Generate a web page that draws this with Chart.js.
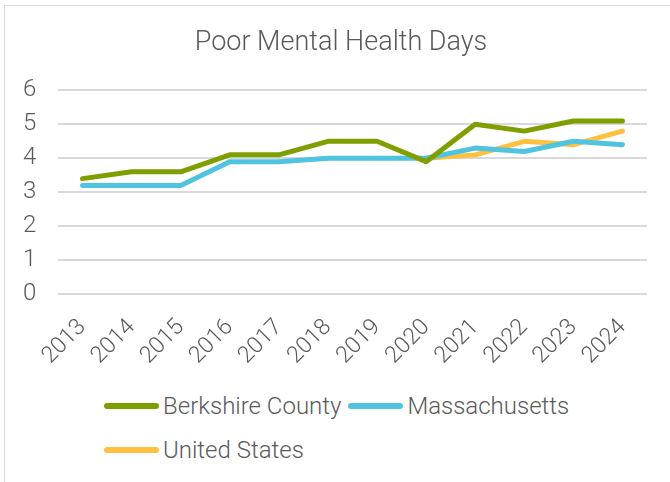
<!DOCTYPE html>
<html>
<head>
<meta charset="utf-8">
<script src="https://cdn.jsdelivr.net/npm/chart.js@4"></script>
<style>
  body { margin: 0; background: #fff; font-family: Roboto, sans-serif; }
  #frame { position: absolute; left: 4px; top: 5px; width: 700px; height: 500px; border: 1px solid #d9d9d9; }
  #wrap { position: absolute; left: 0; top: 0; width: 670px; height: 374px; }
  #legend { position: absolute; left: 104px; top: 384px; width: 480px; display: flex; flex-wrap: wrap;
    font: 300 24px Roboto, sans-serif; color: #595959; }
  #legend .item { display: flex; align-items: center; height: 44px; margin-right: 7px; }
  #legend .swatch { width: 55px; height: 6px; border-radius: 3px; margin-right: 4px; }
</style>
</head>
<body>
<div id="frame"></div>
<div id="wrap"><canvas id="c"></canvas></div>
<div id="legend"></div>
<script>
const years = ['2013', '2014', '2015', '2016', '2017', '2018', '2019', '2020', '2021', '2022', '2023', '2024'];
const berkshire = [3.4, 3.6, 3.6, 4.1, 4.1, 4.5, 4.5, 3.9, 5.0, 4.8, 5.1, 5.1];
const massachusetts = [3.2, 3.2, 3.2, 3.9, 3.9, 4.0, 4.0, 4.0, 4.3, 4.2, 4.5, 4.4];
const unitedStates = [null, null, null, null, null, null, null, 4.0, 4.1, 4.5, 4.4, 4.8];
const seriesNames = ['Berkshire County', 'Massachusetts', 'United States'];
const colors = ['#7f9f00', '#4fc3e0', '#ffc040'];
const grey = '#595959';

const datasets = [berkshire, massachusetts, unitedStates].map((d, i) => ({
  label: seriesNames[i], data: d, borderColor: colors[i], backgroundColor: colors[i],
  borderWidth: 5, pointRadius: 0, borderCapStyle: 'round', borderJoinStyle: 'round', tension: 0
}));

new Chart(document.getElementById('c'), {
  type: 'line',
  data: { labels: years, datasets },
  options: {
    responsive: true, maintainAspectRatio: false, animation: false,
    layout: { padding: { left: 35, right: 23, top: 27, bottom: 0 } },
    plugins: {
      legend: { display: false },
      tooltip: { enabled: false },
      title: { display: true, text: 'Poor Mental Health Days', color: grey,
        font: { family: 'Roboto', size: 27, weight: 300 }, padding: { top: 0, bottom: 31 } }
    },
    scales: {
      x: {
        offset: true,
        grid: { display: false, drawTicks: false },
        border: { display: false },
        ticks: { color: grey, font: { family: 'Roboto', size: 23, weight: 300 }, minRotation: 45, maxRotation: 45, padding: 20 },
        afterFit: s => { s.paddingLeft = 0; s.paddingRight = 0; s.height = 80; }
      },
      y: {
        min: 0, max: 6,
        grid: { color: '#d9d9d9', lineWidth: 2, drawTicks: false },
        border: { display: false },
        // mirrored so the labels may sit left of the axis box without being clipped
        ticks: { stepSize: 1, color: grey, font: { family: 'Roboto', size: 24, weight: 300 }, mirror: true, padding: -35 },
        afterFit: s => { s.width = 23; }
      }
    }
  }
});

document.getElementById('legend').innerHTML = seriesNames.map((n, i) =>
  `<div class="item"><span class="swatch" style="background:${colors[i]}"></span>${n}</div>`).join('');
</script>
</body>
</html>
